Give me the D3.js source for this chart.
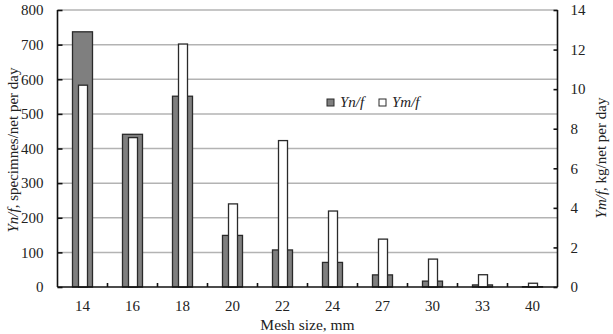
<!DOCTYPE html>
<html><head><meta charset="utf-8">
<script src="https://cdn.jsdelivr.net/npm/d3@7"></script>
<style>body{margin:0;background:#fff}svg{display:block}</style>
</head><body>
<script>
const categories = ["14","16","18","20","22","24","27","30","33","40"];
const ynf = [737, 441, 551, 149, 107, 71, 35, 17, 6, 1];          // specimens/net per day (left axis)
const ymf = [10.2, 7.55, 12.28, 4.2, 7.4, 3.84, 2.42, 1.41, 0.62, 0.19]; // kg/net per day (right axis)
const leftTicks = [0,100,200,300,400,500,600,700,800];
const rightTicks = [0,2,4,6,8,10,12,14];

const FONT = "'Liberation Serif', 'Times New Roman', serif";
const W = 613, H = 334;
const m = {l: 57.5, r: 55.5, t: 10, b: 47};
const svg = d3.select("body").append("svg").attr("width", W).attr("height", H)
  .style("font-family", FONT);

const x = d3.scaleBand().domain(categories).range([m.l, W - m.r]).padding(0);
const yL = d3.scaleLinear().domain([0, 800]).range([H - m.b, m.t]);
const yR = d3.scaleLinear().domain([0, 14]).range([H - m.b, m.t]);

// gridlines
svg.append("g").selectAll("line").data(leftTicks.slice(1)).join("line")
  .attr("x1", m.l).attr("x2", W - m.r)
  .attr("y1", d => yL(d)).attr("y2", d => yL(d))
  .attr("stroke", "#b3b3b3").attr("stroke-width", 1.5);

const bw = x.bandwidth();
const gW = bw * 0.4, wW = bw * 0.18;

// gray bars
svg.append("g").selectAll("rect").data(categories).join("rect")
  .attr("x", d => x(d) + (bw - gW) / 2)
  .attr("width", gW)
  .attr("y", (d, i) => yL(ynf[i]))
  .attr("height", (d, i) => yL(0) - yL(ynf[i]))
  .attr("fill", "#7f7f7f").attr("stroke", "#2a2a2a").attr("stroke-width", 1.3);

// white bars
svg.append("g").selectAll("rect").data(categories).join("rect")
  .attr("x", d => x(d) + (bw - wW) / 2 + 0.5)
  .attr("width", wW)
  .attr("y", (d, i) => yR(ymf[i]))
  .attr("height", (d, i) => yR(0) - yR(ymf[i]))
  .attr("fill", "#fff").attr("stroke", "#2a2a2a").attr("stroke-width", 1.3);

// axes
const axL = svg.append("g").attr("transform", `translate(${m.l},0)`)
  .call(d3.axisLeft(yL).tickValues(leftTicks).tickSize(-5).tickPadding(14));
const axR = svg.append("g").attr("transform", `translate(${W - m.r},0)`)
  .call(d3.axisRight(yR).tickValues(rightTicks).tickSize(-4).tickPadding(13));
const axB = svg.append("g").attr("transform", `translate(0,${H - m.b})`)
  .call(d3.axisBottom(x).tickSize(0).tickPadding(13.5));
[axL, axR, axB].forEach(a => {
  a.attr("font-family", null).attr("font-size", null);
  a.select(".domain").attr("stroke", "#111").attr("stroke-width", 1.6);
  a.selectAll(".tick line").attr("stroke", "#111").attr("stroke-width", 1.6);
  a.selectAll("text").style("font-size", "15px").style("font-family", FONT).attr("fill", "#222");
});
axL.select(".domain").attr("d", `M0,${m.t}V${H - m.b}`);
axR.select(".domain").attr("d", `M0,${m.t}V${H - m.b}`);
axB.select(".domain").attr("d", `M${m.l},0H${W - m.r}`);

// inward category boundary ticks on bottom axis
svg.append("g").selectAll("line").data(categories.slice(1)).join("line")
  .attr("x1", d => x(d)).attr("x2", d => x(d))
  .attr("y1", H - m.b).attr("y2", H - m.b - 4)
  .attr("stroke", "#111").attr("stroke-width", 1.6);

// axis titles
svg.append("text").attr("x", (m.l + W - m.r) / 2).attr("y", 329.5)
  .attr("text-anchor", "middle").style("font-size", "15.5px").style("font-family", FONT)
  .attr("fill", "#222").text("Mesh size, mm");

const tl = svg.append("text").attr("transform", `translate(17.5,${150}) rotate(-90)`)
  .attr("text-anchor", "middle").style("font-size", "15px").style("font-family", FONT).attr("fill", "#222");
tl.append("tspan").attr("font-style", "italic").text("Yn/f,");
tl.append("tspan").text(" specimnes/net per day");

const tr = svg.append("text").attr("transform", `translate(606,${158}) rotate(-90)`)
  .attr("text-anchor", "middle").style("font-size", "15px").style("font-family", FONT).attr("fill", "#222");
tr.append("tspan").attr("font-style", "italic").text("Ym/f,");
tr.append("tspan").text(" kg/net per day");

// legend
const lg = svg.append("g").attr("transform", "translate(327,99)");
lg.append("rect").attr("x", 0).attr("y", 0).attr("width", 7).attr("height", 7)
  .attr("fill", "#7f7f7f").attr("stroke", "#2a2a2a").attr("stroke-width", 1);
lg.append("text").attr("x", 13).attr("y", 8).style("font-size", "15px").style("font-family", FONT)
  .attr("font-style", "italic").attr("fill", "#222").text("Yn/f");
lg.append("rect").attr("x", 52).attr("y", 0).attr("width", 7).attr("height", 7)
  .attr("fill", "#fff").attr("stroke", "#2a2a2a").attr("stroke-width", 1);
lg.append("text").attr("x", 65).attr("y", 8).style("font-size", "15px").style("font-family", FONT)
  .attr("font-style", "italic").attr("fill", "#222").text("Ym/f");
</script>
</body></html>
